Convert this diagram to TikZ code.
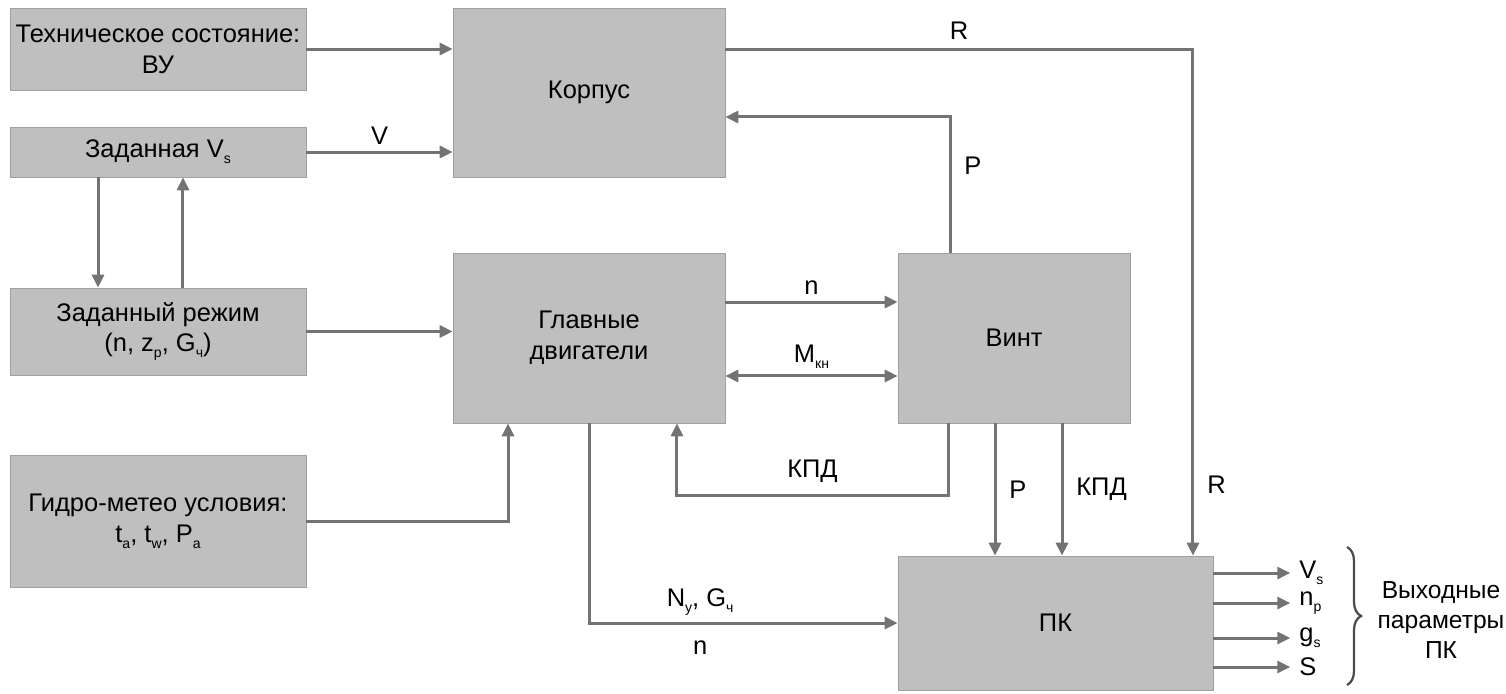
\documentclass[tikz,border=0pt]{standalone}
\usepackage{fontspec}
\setmainfont{Liberation Sans}
\usetikzlibrary{arrows.meta, positioning, decorations.pathreplacing}
\definecolor{boxfill}{RGB}{191,191,191}
\definecolor{boxline}{RGB}{160,160,160}
\definecolor{linegray}{RGB}{115,115,115}
\newcommand{\idx}[1]{\raisebox{-0.45ex}{\fontsize{8}{8}\selectfont #1}}

\begin{document}
\begin{tikzpicture}[x=0.02cm, y=-0.02cm,
  box/.style={draw=boxline, fill=boxfill, line width=0.4pt, align=center, font=\fontsize{14.5}{17.5}\selectfont, inner sep=2pt},
  arr/.style={-{Triangle[length=0.26cm, width=0.24cm]}, draw=linegray, line width=0.06cm},
  lbl/.style={font=\fontsize{14.5}{17}\selectfont, text=black}
]
\useasboundingbox (0,0) rectangle (1506,693);

\node[box, minimum width=5.92cm, minimum height=1.64cm] (tech)   at (158,49)    {Техническое состояние:\\ВУ};
\node[box, minimum width=5.92cm, minimum height=1cm]    (vs)     at (158,152)   {Заданная V\idx{s}};
\node[box, minimum width=5.92cm, minimum height=1.74cm] (rezhim) at (158,331.5) {Заданный режим\\(n, z\idx{p}, G\idx{ч})};
\node[box, minimum width=5.92cm, minimum height=2.64cm] (hydro)  at (158,521)   {Гидро-метео условия:\\t\idx{a}, t\idx{w}, P\idx{a}};
\node[box, minimum width=5.44cm, minimum height=3.38cm] (korpus) at (589,92.5)  {Корпус};
\node[box, minimum width=5.44cm, minimum height=3.4cm]  (dvig)   at (589,338)   {Главные\\двигатели};
\node[box, minimum width=4.64cm, minimum height=3.4cm]  (vint)   at (1014,338)  {Винт};
\node[box, minimum width=6.3cm, minimum height=2.68cm]  (pk)     at (1055.5,623) {ПК};

% inputs
\draw[arr] (tech.east) -- (tech.east -| korpus.west);
\draw[arr] (vs.east) -- (vs.east -| korpus.west) node[lbl, midway, above] {V};
\draw[arr] ([xshift=-1.2cm]vs.south) -- ([xshift=-1.2cm]rezhim.north);
\draw[arr] ([xshift=0.5cm]rezhim.north) -- ([xshift=0.5cm]vs.south);
\draw[arr] (rezhim.east) -- (rezhim.east -| dvig.west);
\draw[arr] (hydro.east) -| ([xshift=-1.62cm]dvig.south);

% engine and propeller
\draw[arr] ([yshift=0.72cm]dvig.east) -- ([yshift=0.72cm]vint.west) node[lbl, midway, above] {n};
\draw[arr, {Triangle[length=0.26cm, width=0.24cm]}-{Triangle[length=0.26cm, width=0.24cm]}]
  ([yshift=-0.76cm]dvig.east) -- ([yshift=-0.76cm]vint.west) node[lbl, midway, above] {M\idx{кн}};
\draw[arr] ([xshift=-1.32cm]vint.south) -- ++(0,-1.44cm) -| ([xshift=1.76cm]dvig.south)
  node[lbl, pos=0.25, above=3pt] {КПД};
\draw[arr] ([xshift=-1.28cm]vint.north) |- ([yshift=-0.49cm]korpus.east) node[lbl, pos=0.32, right=4pt] {P};
\draw[arr] ([yshift=0.87cm]korpus.east) -| ([xshift=2.75cm]pk.north)
  node[lbl, pos=0.25, above=1pt] {R}
  node[lbl, pos=0.93, right=4pt] {R};

% to ПК
\draw[arr] ([xshift=-0.38cm]vint.south) -- ([xshift=-0.38cm]vint.south |- pk.north) node[lbl, midway, right=4pt] {P};
\draw[arr] ([xshift=0.96cm]vint.south) -- ([xshift=0.96cm]vint.south |- pk.north) node[lbl, midway, right=4pt] {КПД};
\draw[arr] (dvig.south) |- (pk.west)
  node[lbl, pos=0.68, above] {N\idx{y}, G\idx{ч}}
  node[lbl, pos=0.68, below=6pt] {n};

% outputs
\foreach \dy/\txt [count=\i] in {1.0/V\idx{s}, 0.4/n\idx{p}, -0.3/g\idx{s}, -0.88/S} {
  \coordinate (out\i) at ([yshift=\dy cm, xshift=1.54cm]pk.east);
  \draw[arr] ([yshift=\dy cm]pk.east) -- (out\i) node[lbl, right=1pt] {\txt};
}
\coordinate (brtop) at (1347,547);
\coordinate (brbot) at (1347,685);
\draw[decorate, decoration={brace, amplitude=0.28cm}, draw=black!70, line width=0.045cm] (brtop) -- (brbot);
\node[lbl, align=center, font=\fontsize{14}{17}\selectfont] (outtxt) at (1441,620) {Выходные\\параметры\\ПК};
\end{tikzpicture}
\end{document}
